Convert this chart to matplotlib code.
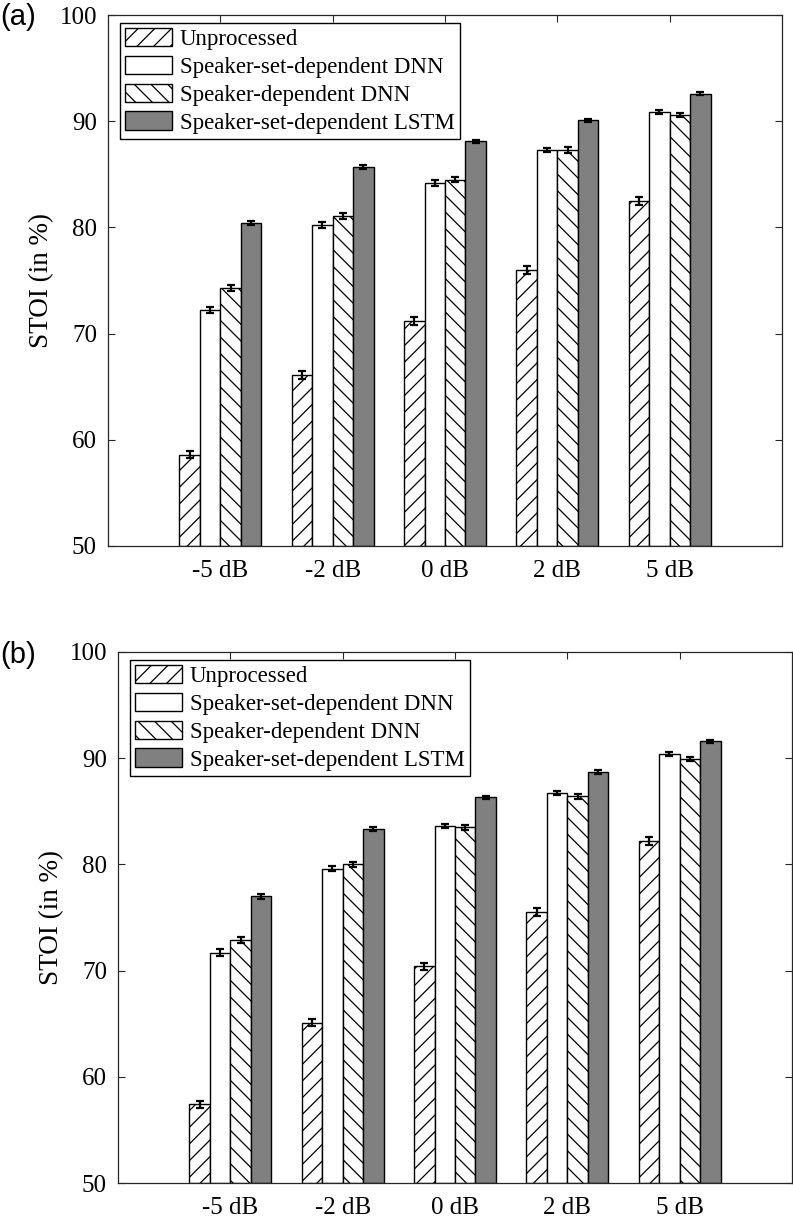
#!/usr/bin/env python3
"""Grouped STOI bar charts for two test conditions, (a) and (b)."""

from __future__ import annotations

import matplotlib

matplotlib.use("Agg")
import matplotlib.pyplot as plt
import numpy as np


CONDITIONS = ["-5 dB", "-2 dB", "0 dB", "2 dB", "5 dB"]
SYSTEMS = [
    "Unprocessed",
    "Speaker-set-dependent DNN",
    "Speaker-dependent DNN",
    "Speaker-set-dependent LSTM",
]

# panel (a): mean STOI in % per SNR
A_UNPROCESSED = [58.6, 66.1, 71.2, 76.0, 82.5]
A_SPK_SET_DNN = [72.2, 80.2, 84.2, 87.3, 90.9]
A_SPK_DEP_DNN = [74.3, 81.1, 84.5, 87.3, 90.6]
A_SPK_SET_LSTM = [80.4, 85.7, 88.1, 90.1, 92.6]

# panel (b)
B_UNPROCESSED = [57.4, 65.1, 70.4, 75.5, 82.2]
B_SPK_SET_DNN = [71.7, 79.6, 83.6, 86.7, 90.4]
B_SPK_DEP_DNN = [72.9, 80.0, 83.5, 86.4, 89.9]
B_SPK_SET_LSTM = [77.0, 83.3, 86.3, 88.7, 91.6]

# standard errors (half-length of error bars)
A_ERR_UNPROCESSED = [0.35, 0.35, 0.35, 0.35, 0.35]
A_ERR_SPK_SET_DNN = [0.3, 0.3, 0.3, 0.2, 0.2]
A_ERR_SPK_DEP_DNN = [0.3, 0.3, 0.25, 0.25, 0.2]
A_ERR_SPK_SET_LSTM = [0.2, 0.2, 0.15, 0.15, 0.15]

B_ERR_UNPROCESSED = [0.35, 0.35, 0.35, 0.35, 0.35]
B_ERR_SPK_SET_DNN = [0.3, 0.25, 0.2, 0.2, 0.2]
B_ERR_SPK_DEP_DNN = [0.3, 0.25, 0.25, 0.2, 0.2]
B_ERR_SPK_SET_LSTM = [0.25, 0.2, 0.15, 0.15, 0.15]

Y_TICKS = [50, 60, 70, 80, 90, 100]

STYLES = [
    {"facecolor": "white", "hatch": "//"},
    {"facecolor": "white", "hatch": None},
    {"facecolor": "white", "hatch": "\\\\"},
    {"facecolor": "#808080", "hatch": None},
]

SERIF = ["Liberation Serif", "DejaVu Serif"]
AXIS_COLOR = "#262626"


def plot_panel(ax, series, errors):
    x = np.arange(1, len(CONDITIONS) + 1)
    n = len(series)
    group_width = min(0.8, n / (n + 1.5))
    bar_width = group_width / n
    for i, (values, err, style, label) in enumerate(zip(series, errors, STYLES, SYSTEMS)):
        offset = (i - (n - 1) / 2) * bar_width
        ax.bar(
            x + offset,
            np.asarray(values) - 50,
            bottom=50,
            width=bar_width,
            facecolor=style["facecolor"],
            hatch=style["hatch"],
            edgecolor="black",
            linewidth=1.0,
            label=label,
            zorder=2,
        )
        ax.errorbar(
            x + offset,
            values,
            yerr=err,
            fmt="none",
            ecolor="black",
            elinewidth=1.6,
            capsize=3,
            capthick=1.6,
            zorder=3,
        )

    ax.set_xlim(0, len(CONDITIONS) + 1)
    ax.set_ylim(50, 100)
    ax.set_xticks(x)
    ax.set_xticklabels(CONDITIONS)
    ax.set_yticks(Y_TICKS)
    ax.tick_params(direction="in", top=True, right=True, length=5, width=0.8,
                   color=AXIS_COLOR, labelsize=18)
    ax.tick_params(axis="x", pad=10)
    ax.tick_params(axis="y", pad=8)
    for label in ax.get_xticklabels() + ax.get_yticklabels():
        label.set_family(SERIF)
    for spine in ax.spines.values():
        spine.set_color(AXIS_COLOR)
        spine.set_linewidth(0.9)
    ax.set_ylabel("STOI (in %)", fontsize=19.5, family=SERIF, labelpad=4)

    width_px = ax.get_window_extent().width
    height_px = ax.get_window_extent().height
    ax.legend(
        loc="upper left",
        bbox_to_anchor=(12 / width_px, 1 - 8 / height_px),
        borderaxespad=0,
        prop={"family": SERIF, "size": 16.5},
        frameon=True,
        fancybox=False,
        framealpha=1,
        edgecolor="black",
        handlelength=2.05,
        handleheight=0.85,
        handletextpad=0.35,
        labelspacing=0.25,
        borderpad=0.22,
    )


def main() -> int:
    plt.rcParams["hatch.linewidth"] = 0.9
    fig = plt.figure(figsize=(7.93, 12.19), dpi=100)
    ax_a = fig.add_axes([108 / 793, 1 - 546 / 1219, 674 / 793, 531 / 1219])
    ax_b = fig.add_axes([118 / 793, 1 - 1183 / 1219, 674 / 793, 531 / 1219])

    plot_panel(
        ax_a,
        [A_UNPROCESSED, A_SPK_SET_DNN, A_SPK_DEP_DNN, A_SPK_SET_LSTM],
        [A_ERR_UNPROCESSED, A_ERR_SPK_SET_DNN, A_ERR_SPK_DEP_DNN, A_ERR_SPK_SET_LSTM],
    )
    plot_panel(
        ax_b,
        [B_UNPROCESSED, B_SPK_SET_DNN, B_SPK_DEP_DNN, B_SPK_SET_LSTM],
        [B_ERR_UNPROCESSED, B_ERR_SPK_SET_DNN, B_ERR_SPK_DEP_DNN, B_ERR_SPK_SET_LSTM],
    )

    sans = ["Liberation Sans", "DejaVu Sans"]
    fig.text(0.0, 1 - 17 / 1219, "(a)", fontsize=21, family=sans, va="center", ha="left")
    fig.text(0.0, 1 - 655 / 1219, "(b)", fontsize=21, family=sans, va="center", ha="left")

    fig.savefig("out.png", dpi=100)
    plt.close(fig)
    return 0


if __name__ == "__main__":
    raise SystemExit(main())
